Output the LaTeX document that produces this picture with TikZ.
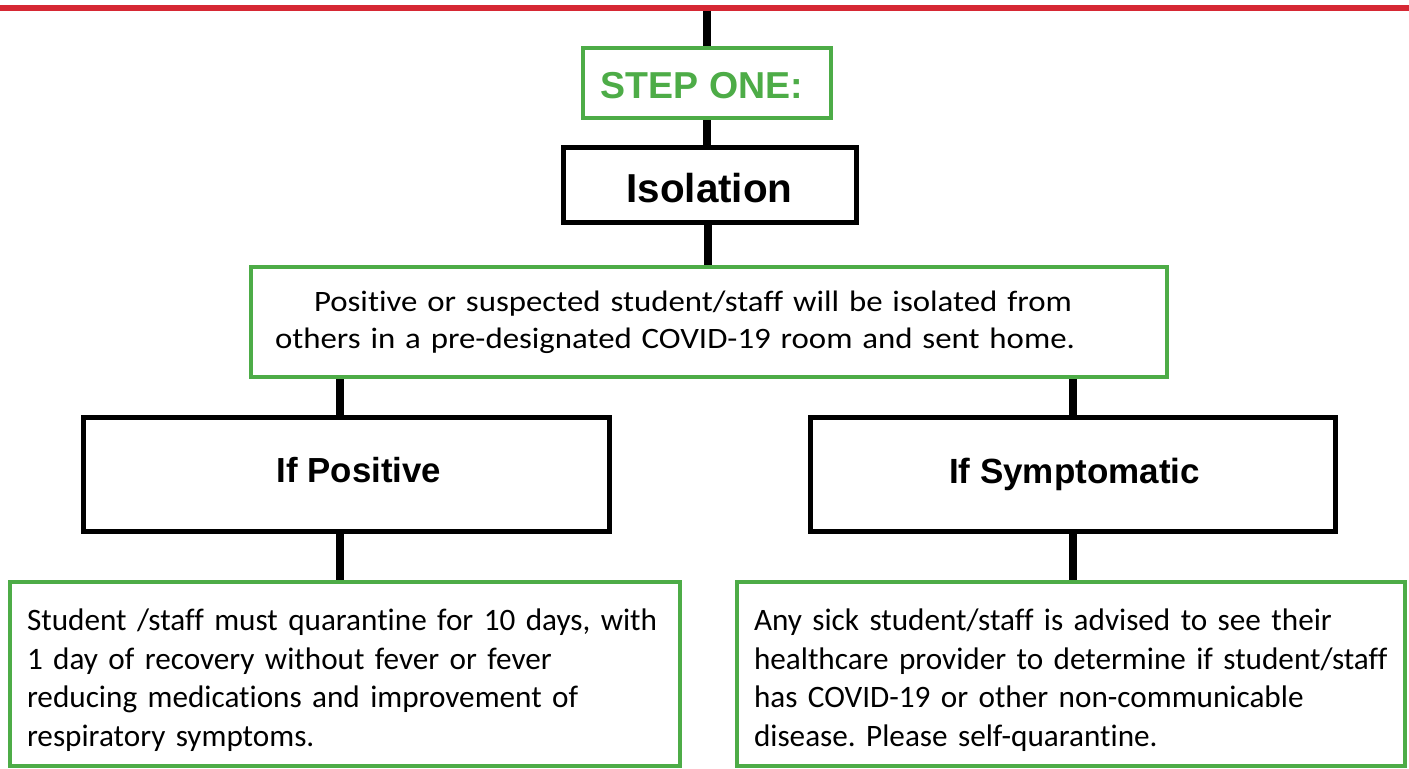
\documentclass[tikz,border=0pt]{standalone}
\usepackage{fontspec}
\setmainfont{Carlito}[Ligatures=NoCommon]
\newfontfamily\midfont{Carlito}[Ligatures=NoCommon,FakeStretch=1.11]
\newfontfamily\arialfont{Liberation Sans}
\usetikzlibrary{backgrounds}
\definecolor{boxgreen}{RGB}{77,172,71}
\definecolor{rulered}{RGB}{214,40,52}
\tikzset{
  greenbox/.style={draw=boxgreen, line width=2pt, fill=white, rectangle, inner sep=0pt},
  blackbox/.style={draw=black, line width=2.5pt, fill=white, rectangle, inner sep=0pt},
  conn/.style={draw=black, line width=4pt},
  bodytext/.style={font=\fontsize{15.6}{19.2}\selectfont, align=left},
}
\frenchspacing
\begin{document}
\begin{tikzpicture}[x=0.5pt,y=-0.5pt]
\frenchspacing
\useasboundingbox (0,0) rectangle (1409,768);
% red rule
\draw[rulered, line width=3pt] (0,8) -- (1409,8);
\coordinate (top) at (707,8);
% nodes
\node[greenbox, minimum width=124pt, minimum height=35pt, text=boxgreen,
      text height=15.5pt, text depth=0pt,
      font=\arialfont\bfseries\fontsize{18.75}{22}\selectfont] (step) at (707,83) {\hspace*{-5pt}STEP ONE:};
\node[blackbox, minimum width=146.5pt, minimum height=37.5pt,
      text height=18pt, text depth=0pt,
      font=\arialfont\bfseries\fontsize{20.2}{24}\selectfont] (iso) at (709.5,184.5) {Isolation};
\node[greenbox, minimum width=458pt, minimum height=55pt, inner xsep=12pt,
      text width=434pt, font=\midfont\fontsize{14.8}{18.5}\selectfont, align=left] (pos) at (709,322)
      {\hspace*{19.5pt}Positive or suspected student/staff will be isolated from\\
       others in a pre-designated COVID-19 room and sent home.};
\node[blackbox, minimum width=263pt, minimum height=57pt,
      text height=8.5pt, text depth=0pt,
      font=\arialfont\bfseries\fontsize{17.4}{21}\selectfont] (ifpos) at (346,474) {\hspace*{13pt}If Positive};
\node[blackbox, minimum width=262.5pt, minimum height=57pt,
      text height=9pt, text depth=0pt,
      font=\arialfont\bfseries\fontsize{17.5}{21}\selectfont] (ifsym) at (1072.5,474) {\hspace*{2pt}If Symptomatic};
\node[greenbox, minimum width=335pt, minimum height=92pt, inner xsep=8.5pt,
      text width=318pt, bodytext] (bl) at (345,674)
      {\rule{0pt}{17pt}Student /staff must quarantine for 10 days, with\\
       1 day of recovery without fever or fever\\
       reducing medications and improvement of\\
       respiratory symptoms.};
\node[greenbox, minimum width=334pt, minimum height=92pt, inner xsep=8.5pt,
      text width=317pt, bodytext] (br) at (1071,674)
      {\rule{0pt}{17pt}Any sick student/staff is advised to see their\\
       healthcare provider to determine if student/staff\\
       has COVID-19 or other non-communicable\\
       disease. Please self-quarantine.};
% connectors
\begin{pgfonlayer}{background}
\draw[conn] (top) -- (step.north);
\draw[conn] (step.south) -- (step.south |- iso.north);
\draw[conn] ([xshift=-0.75pt]iso.south) -- ([xshift=-0.75pt]iso.south |- pos.north);
\draw[conn] ([xshift=-3pt]ifpos.north) -- ([xshift=-3pt]ifpos.north |- pos.south);
\draw[conn] (ifsym.north) -- (ifsym.north |- pos.south);
\draw[conn] ([xshift=-3pt]ifpos.south) -- ([xshift=-3pt]ifpos.south |- bl.north);
\draw[conn] (ifsym.south) -- (ifsym.south |- br.north);
\end{pgfonlayer}
\end{tikzpicture}
\end{document}
